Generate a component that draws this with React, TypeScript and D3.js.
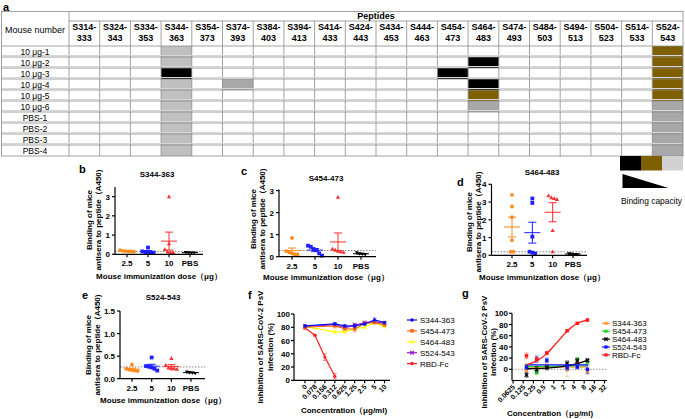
import * as d3 from "d3"

const FONT = "'Liberation Sans', Arial, sans-serif"

// ---------- panel a: peptide table ----------
const peptides = [
  "S314-333", "S324-343", "S334-353", "S344-363", "S354-373", "S374-393", "S384-403",
  "S394-413", "S414-433", "S424-443", "S434-453", "S444-463", "S454-473", "S464-483",
  "S474-493", "S484-503", "S494-513", "S504-523", "S514-533", "S524-543",
]
const mice = [
  "10 μg-1", "10 μg-2", "10 μg-3", "10 μg-4", "10 μg-5", "10 μg-6",
  "PBS-1", "PBS-2", "PBS-3", "PBS-4",
]
// [mouse, peptide]
const strongCells = [
  ["10 μg-3", "S344-363"], ["10 μg-3", "S454-473"],
  ["10 μg-2", "S464-483"], ["10 μg-4", "S464-483"],
]
const mediumCells = [
  ["10 μg-5", "S464-483"],
  ["10 μg-1", "S524-543"], ["10 μg-2", "S524-543"], ["10 μg-3", "S524-543"],
  ["10 μg-4", "S524-543"], ["10 μg-5", "S524-543"],
]
const weakCells = [
  ["10 μg-4", "S374-393"], ["10 μg-6", "S464-483"],
  ["10 μg-6", "S524-543"], ["PBS-1", "S524-543"], ["PBS-2", "S524-543"],
  ["PBS-3", "S524-543"], ["PBS-4", "S524-543"],
]
const faintCells = [
  ["10 μg-1", "S344-363"], ["10 μg-2", "S344-363"], ["10 μg-4", "S344-363"],
  ["10 μg-5", "S344-363"], ["10 μg-6", "S344-363"], ["PBS-1", "S344-363"],
  ["PBS-2", "S344-363"], ["PBS-3", "S344-363"], ["PBS-4", "S344-363"],
]

// ---------- panels b-e: binding by dose ----------
const doses = ["2.5", "5", "10", "PBS"]
const doseColors = ["#ff8a1c", "#1f1fff", "#ff2d2d", "#000000"]
const doseShapes = ["circle", "square", "tri", "triDown"]

const s344Dots = [
  [0.22, 0.18, 0.17, 0.15, 0.15, 0.14],
  [0.35, 0.15, 0.12, 0.1, 0.1, 0.08],
  [3.0, 0.55, 0.25, 0.12, 0.1, 0.1],
  [0.1, 0.09, 0.08, 0.08],
]
const s454Dots = [
  [0.85, 0.25, 0.2, 0.15, 0.1, 0.1],
  [0.5, 0.45, 0.35, 0.3, 0.15, 0.05],
  [2.7, 0.35, 0.3, 0.25, 0.22, 0.2],
  [0.18, 0.14, 0.12, 0.1],
]
const s464Dots = [
  [3.4, 2.75, 2.15, 0.85, 0.2, 0.2],
  [3.2, 2.95, 1.05, 0.2, 0.15, 0.1],
  [3.35, 3.25, 3.2, 3.15, 1.4, 0.2],
  [0.1, 0.08, 0.06, 0.05],
]
const s524Dots = [
  [0.31, 0.22, 0.2, 0.19, 0.18, 0.17],
  [0.47, 0.28, 0.27, 0.25, 0.22, 0.18],
  [0.45, 0.3, 0.24, 0.22, 0.22, 0.21],
  [0.15, 0.14, 0.13, 0.12],
]

// ---------- panel f ----------
const fConc = ["0", "0.078", "0.156", "0.312", "0.625", "1.25", "2.5", "5", "10"]
const fS344 = [82, null, null, 85, 82, 82, 85, 91, 87]
const fS454 = [80, null, null, 82, 78, 77, 86, 87, 84]
const fS464 = [81, null, null, 73, 73, 78, 80, 87, 81]
const fS524 = [81, null, null, 84, 79, 83, 87, 88, 86]
const fRBD = [79, 68, 35, 6, null, null, null, null, null]
const fS344Err = [2, 0, 0, 2, 2, 3, 2, 3, 2]
const fS454Err = [2, 0, 0, 3, 2, 4, 2, 2, 3]
const fS464Err = [2, 0, 0, 2, 2, 3, 2, 2, 2]
const fS524Err = [2, 0, 0, 2, 3, 3, 2, 2, 2]
const fRBDErr = [2, 1, 5, 4, 0, 0, 0, 0, 0]

// ---------- panel g ----------
const gTicks = [0.0625, 0.125, 0.25, 0.5, 1, 2, 4, 8, 16, 32]
const gTickLabels = ["0.0625", "0.125", "0.25", "0.5", "1", "2", "4", "8", "16", "32"]
// [conc, mean, error]
const gS344 = [[0.156, -2, 12], [0.3125, 3, 6], [0.625, 5, 5], [2.5, -1, 12], [5, 14, 4], [10, -4, 4]]
const gS454 = [[0.156, 5, 4], [0.3125, -6, 3], [0.625, 4, 3], [2.5, 6, 4], [5, 18, 3], [10, 13, 4]]
const gS464 = [[0.156, -10, 4], [0.3125, 0, 5], [0.625, 3, 4], [2.5, 11, 4], [5, 15, 4], [10, 16, 3]]
const gS524 = [[0.156, 4, 4], [0.3125, 18, 6], [0.625, 16, 4], [2.5, 3, 4], [5, 4, 3], [10, 0, 8]]
const gRBD = [[0.156, 24, 5], [0.3125, 18, 4], [0.625, 29, 3], [2.5, 69, 2], [5, 82, 2], [10, 88, 2]]
// fitted curves
const gFitS344 = [[0.156, 4], [10, 4]]
const gFitS454 = [[0.156, 5], [10, 6]]
const gFitS464 = [[0.156, 1], [0.625, 2], [2.5, 6], [5, 10], [10, 16]]
const gFitS524 = [[0.156, 8], [10, 8]]
const gFitRBD = [[0.156, 8], [0.3125, 15], [0.625, 28], [1.25, 48], [2.5, 68], [5, 82], [10, 88]]

function Marker({ shape, x, y, color, s = 2.2 }) {
  if (shape === "circle") return <circle cx={x} cy={y} r={s} fill={color} />
  if (shape === "square") return <rect x={x - s} y={y - s} width={2 * s} height={2 * s} fill={color} />
  if (shape === "tri")
    return <path d={`M${x},${y - s * 1.2}L${x + s * 1.1},${y + s * 0.8}L${x - s * 1.1},${y + s * 0.8}Z`} fill={color} />
  if (shape === "triDown")
    return <path d={`M${x},${y + s * 1.2}L${x + s * 1.1},${y - s * 0.8}L${x - s * 1.1},${y - s * 0.8}Z`} fill={color} />
  if (shape === "x")
    return (
      <path d={`M${x - s},${y - s}L${x + s},${y + s}M${x - s},${y + s}L${x + s},${y - s}`} stroke={color} strokeWidth={1.3} />
    )
  return null
}

// spread overlapping points sideways like a column scatter
function swarm(vals, y, gap = 2.8) {
  const pts = vals.map((v) => ({ v, py: y(v) })).sort((a, b) => a.py - b.py)
  const out = []
  let cluster = []
  const flush = () => {
    cluster.forEach((p, j) => out.push({ ...p, dx: (j - (cluster.length - 1) / 2) * gap }))
    cluster = []
  }
  pts.forEach((p) => {
    if (cluster.length && p.py - cluster[cluster.length - 1].py >= 3.5) flush()
    cluster.push(p)
  })
  flush()
  return out
}

function DotPanel({ dots, p }) {
  const y = d3.scaleLinear().domain(p.domain).range([p.yBottom, p.yTop])
  const x = d3.scalePoint().domain(doses).range(p.catRange)
  return (
    <g fontFamily={FONT}>
      <text x={p.letterX} y={p.letterY} fontSize={11} fontWeight="bold">{p.letter}</text>
      <text x={p.titleX} y={p.titleY} fontSize={8} fontWeight="bold" textAnchor="middle">{p.title}</text>
      {/* cutoff */}
      <line x1={p.x0} x2={p.x1} y1={y(p.cutoff)} y2={y(p.cutoff)} stroke="#666" strokeWidth={0.8} strokeDasharray="1.5,1.5" />
      {dots.map((vals, i) => {
        const cx = x(doses[i])
        const mean = d3.mean(vals)
        const sem = d3.deviation(vals) / Math.sqrt(vals.length)
        return (
          <g key={i}>
            {swarm(vals, y).map((d, j) => (
              <Marker key={j} shape={doseShapes[i]} x={cx + d.dx} y={d.py} color={doseColors[i]} s={i === 3 ? 1.7 : 1.9} />
            ))}
            <g stroke={doseColors[i]} strokeWidth={1}>
              <line x1={cx - 8} x2={cx + 8} y1={y(mean)} y2={y(mean)} />
              <line x1={cx} x2={cx} y1={y(mean + sem)} y2={y(Math.max(0, mean - sem))} />
              <line x1={cx - 4} x2={cx + 4} y1={y(mean + sem)} y2={y(mean + sem)} />
              <line x1={cx - 4} x2={cx + 4} y1={y(Math.max(0, mean - sem))} y2={y(Math.max(0, mean - sem))} />
            </g>
          </g>
        )
      })}
      {/* axes */}
      <g stroke="#000" strokeWidth={1.2}>
        <line x1={p.x0} x2={p.x0} y1={y(p.domain[1])} y2={y(0)} />
        <line x1={p.x0} x2={p.x1} y1={y(0)} y2={y(0)} />
        {p.ticks.map((t) => (
          <line key={t} x1={p.x0 - 3} x2={p.x0} y1={y(t)} y2={y(t)} />
        ))}
        {doses.map((d) => (
          <line key={d} x1={x(d)} x2={x(d)} y1={y(0)} y2={y(0) + 3} />
        ))}
      </g>
      {p.ticks.map((t) => (
        <text key={t} x={p.x0 - 5} y={y(t) + 3} fontSize={8} fontWeight="bold" textAnchor="end">
          {p.fmt(t)}
        </text>
      ))}
      {doses.map((d) => (
        <text key={d} x={x(d)} y={y(0) + 12} fontSize={8} fontWeight="bold" textAnchor="middle">{d}</text>
      ))}
      <text x={p.xlabX} y={p.xlabY} fontSize={8} fontWeight="bold" textAnchor="middle">Mouse immunization dose（μg）</text>
      <text transform={`translate(${p.ylabX},${p.ylabY}) rotate(-90)`} fontSize={8} fontWeight="bold" textAnchor="middle">
        Binding of mice
      </text>
      <text transform={`translate(${p.ylabX + 9},${p.ylabY}) rotate(-90)`} fontSize={8} fontWeight="bold" textAnchor="middle">
        antisera to peptide（A450)
      </text>
    </g>
  )
}

function Table() {
  const x = d3.scaleBand().domain(peptides).range([69, 683])
  const y = d3.scaleBand().domain(mice).range([46, 156])
  const fillCells = (cells, color) =>
    cells.map(([m, pep], i) => (
      <rect key={color + i} x={x(pep)} y={y(m)} width={x.bandwidth()} height={y.bandwidth()} fill={color} />
    ))
  return (
    <g fontFamily={FONT}>
      <text x={3} y={11} fontSize={11} fontWeight="bold">a</text>
      {fillCells(faintCells, "#c0c0c0")}
      {fillCells(weakCells, "#a8a8a8")}
      {fillCells(mediumCells, "#7f6000")}
      {fillCells(strongCells, "#000000")}
      <g stroke="#8a8a8a" strokeWidth={0.8} fill="none">
        <rect x={1.5} y={11.5} width={681.5} height={144.5} />
        <line x1={69} x2={683} y1={21} y2={21} />
        <line x1={1.5} x2={683} y1={46} y2={46} />
        {mice.slice(1).map((m) => (
          <line key={m} x1={1.5} x2={683} y1={y(m)} y2={y(m)} />
        ))}
        <line x1={69} x2={69} y1={11.5} y2={156} />
        {peptides.slice(1).map((pep) => (
          <line key={pep} x1={x(pep)} x2={x(pep)} y1={21} y2={156} />
        ))}
      </g>
      <g stroke="#d6d6d6" strokeWidth={1}>
        {mice.slice(1).map((m) => (
          <line key={m} x1={2} x2={682} y1={y(m) - 1.5} y2={y(m) - 1.5} />
        ))}
      </g>
      <text x={376} y={19} fontSize={9} fontWeight="bold" textAnchor="middle">Peptides</text>
      <text x={35} y={33} fontSize={9} textAnchor="middle">Mouse number</text>
      {peptides.map((pep) => {
        const [a, b] = pep.split("-")
        const cx = x(pep) + x.bandwidth() / 2
        return (
          <g key={pep} fontSize={9} fontWeight="bold" textAnchor="middle">
            <text x={cx} y={30}>{a}-</text>
            <text x={cx} y={40.5}>{b}</text>
          </g>
        )
      })}
      {mice.map((m) => (
        <text key={m} x={35} y={y(m) + y.bandwidth() / 2 + 3.2} fontSize={8.5} textAnchor="middle">{m}</text>
      ))}
      {/* binding capacity legend */}
      <rect x={620} y={156} width={21} height={14.5} fill="#000" />
      <rect x={641} y={156} width={21} height={14.5} fill="#7f6000" />
      <rect x={662} y={156} width={21} height={14.5} fill="#d2d2d2" />
      <path d="M622.5,174L622.5,188L668.5,188Z" fill="#000" />
      <text x={621} y={204} fontSize={8.4}>Binding capacity</text>
    </g>
  )
}

function PanelF() {
  const x = d3.scalePoint().domain(fConc).range([305, 384.5])
  const y = d3.scaleLinear().domain([0, 100]).range([380.3, 314])
  const series = [
    { name: "RBD-Fc", vals: fRBD, err: fRBDErr, color: "#ff2020", shape: "circle" },
    { name: "S464-483", vals: fS464, err: fS464Err, color: "#ffff00", shape: "tri" },
    { name: "S524-543", vals: fS524, err: fS524Err, color: "#9a1fd0", shape: "x" },
    { name: "S454-473", vals: fS454, err: fS454Err, color: "#ff6a10", shape: "square" },
    { name: "S344-363", vals: fS344, err: fS344Err, color: "#1010ee", shape: "circle" },
  ]
  const legend = ["S344-363", "S454-473", "S464-483", "S524-543", "RBD-Fc"]
  const line = d3
    .line()
    .defined((d) => d[1] != null)
    .x((d) => x(d[0]))
    .y((d) => y(d[1]))
  return (
    <g fontFamily={FONT}>
      <text x={248} y={299} fontSize={11} fontWeight="bold">f</text>
      {series.map((s) => {
        const pts = fConc.map((c, i) => [c, s.vals[i], s.err[i]]).filter((d) => d[1] != null)
        return (
          <g key={s.name}>
            <path d={line(pts)} fill="none" stroke={s.color} strokeWidth={1.2} />
            {pts.map((d) => (
              <g key={d[0]} stroke={s.color} strokeWidth={0.8} opacity={0.7}>
                <line x1={x(d[0])} x2={x(d[0])} y1={y(d[1] + d[2])} y2={y(d[1] - d[2])} />
                <line x1={x(d[0]) - 2} x2={x(d[0]) + 2} y1={y(d[1] + d[2])} y2={y(d[1] + d[2])} />
                <line x1={x(d[0]) - 2} x2={x(d[0]) + 2} y1={y(d[1] - d[2])} y2={y(d[1] - d[2])} />
              </g>
            ))}
            {pts.map((d) => (
              <Marker key={"m" + d[0]} shape={s.shape} x={x(d[0])} y={y(d[1])} color={s.color} s={1.6} />
            ))}
          </g>
        )
      })}
      <g stroke="#000" strokeWidth={1.2}>
        <line x1={294} x2={294} y1={y(100)} y2={y(0)} />
        <line x1={294} x2={390} y1={y(0)} y2={y(0)} />
        {y.ticks(5).map((t) => (
          <line key={t} x1={291} x2={294} y1={y(t)} y2={y(t)} />
        ))}
        {fConc.map((c) => (
          <line key={c} x1={x(c)} x2={x(c)} y1={y(0)} y2={y(0) + 3} />
        ))}
      </g>
      {y.ticks(5).map((t) => (
        <text key={t} x={290} y={y(t) + 3} fontSize={8} fontWeight="bold" textAnchor="end">{t}</text>
      ))}
      {fConc.map((c) => (
        <text key={c} transform={`translate(${x(c) + 2.5},${y(0) + 7}) rotate(-45)`} fontSize={7} fontWeight="bold" textAnchor="end">
          {c}
        </text>
      ))}
      <text x={344} y={413} fontSize={8} fontWeight="bold" textAnchor="middle">Concentration（μg/ml)</text>
      <text transform="translate(263,347) rotate(-90)" fontSize={8} fontWeight="bold" textAnchor="middle">
        Inhibition of SARS-CoV-2 PsV
      </text>
      <text transform="translate(272.5,347) rotate(-90)" fontSize={8} fontWeight="bold" textAnchor="middle">
        infection (%)
      </text>
      {legend.map((name, i) => {
        const s = series.find((d) => d.name === name)
        const ly = 320 + i * 10.9
        return (
          <g key={name}>
            <line x1={407} x2={417} y1={ly} y2={ly} stroke={s.color} strokeWidth={1.2} />
            <Marker shape={s.shape} x={412} y={ly} color={s.color} s={1.8} />
            <text x={420} y={ly + 3} fontSize={8}>{name}</text>
          </g>
        )
      })}
    </g>
  )
}

function PanelG() {
  const x = d3.scaleLog().base(2).domain([0.058, 38]).range([512, 607])
  const y = d3.scaleLinear().domain([-20, 100]).range([380.5, 313.3])
  const series = [
    { name: "S344-363", pts: gS344, fit: gFitS344, color: "#ff9a40", shape: "square" },
    { name: "S454-473", pts: gS454, fit: gFitS454, color: "#2fd02f", shape: "square" },
    { name: "S464-483", pts: gS464, fit: gFitS464, color: "#000000", shape: "x" },
    { name: "S524-543", pts: gS524, fit: gFitS524, color: "#1010ff", shape: "square" },
    { name: "RBD-Fc", pts: gRBD, fit: gFitRBD, color: "#ff1a1a", shape: "square" },
  ]
  const line = d3
    .line()
    .x((d) => x(d[0]))
    .y((d) => y(d[1]))
    .curve(d3.curveMonotoneX)
  return (
    <g fontFamily={FONT}>
      <text x={462} y={297} fontSize={11} fontWeight="bold">g</text>
      <line x1={512} x2={607} y1={y(0)} y2={y(0)} stroke="#777" strokeWidth={0.8} strokeDasharray="1.5,1.5" />
      {series.map((s) => (
        <g key={s.name}>
          {s.pts.map((d, i) => (
            <g key={i} stroke={s.color} strokeWidth={0.8} opacity={0.6}>
              <line x1={x(d[0])} x2={x(d[0])} y1={y(d[1] + d[2])} y2={y(d[1] - d[2])} />
              <line x1={x(d[0]) - 2} x2={x(d[0]) + 2} y1={y(d[1] + d[2])} y2={y(d[1] + d[2])} />
              <line x1={x(d[0]) - 2} x2={x(d[0]) + 2} y1={y(d[1] - d[2])} y2={y(d[1] - d[2])} />
            </g>
          ))}
          <path d={line(s.fit)} fill="none" stroke={s.color} strokeWidth={1.3} />
          {s.pts.map((d, i) => (
            <Marker key={"m" + i} shape={s.shape} x={x(d[0])} y={y(d[1])} color={s.color} s={1.7} />
          ))}
        </g>
      ))}
      <g stroke="#000" strokeWidth={1.2}>
        <line x1={512} x2={512} y1={y(100)} y2={y(-20)} />
        <line x1={512} x2={607} y1={y(-20)} y2={y(-20)} />
        {[100, 80, 60, 40, 20, 0].map((t) => (
          <line key={t} x1={509} x2={512} y1={y(t)} y2={y(t)} />
        ))}
        {gTicks.map((t) => (
          <line key={t} x1={x(t)} x2={x(t)} y1={y(-20)} y2={y(-20) + 3} />
        ))}
      </g>
      {[100, 80, 60, 40, 20, 0].map((t) => (
        <text key={t} x={508} y={y(t) + 3} fontSize={8} fontWeight="bold" textAnchor="end">{t}</text>
      ))}
      {gTicks.map((t, i) => (
        <text key={t} transform={`translate(${x(t) + 2.5},${y(-20) + 7}) rotate(-45)`} fontSize={7} fontWeight="bold" textAnchor="end">
          {gTickLabels[i]}
        </text>
      ))}
      <text x={550} y={415.5} fontSize={8} fontWeight="bold" textAnchor="middle">Concentration（μg/ml)</text>
      <text transform="translate(486.5,352) rotate(-90)" fontSize={8} fontWeight="bold" textAnchor="middle">
        Inhibition of SARS-CoV-2 PsV
      </text>
      <text transform="translate(495.5,352) rotate(-90)" fontSize={8} fontWeight="bold" textAnchor="middle">
        infection (%)
      </text>
      {series.map((s, i) => {
        const ly = 323.3 + i * 7.9
        return (
          <g key={s.name}>
            <line x1={602} x2={610} y1={ly} y2={ly} stroke={s.color} strokeWidth={1.2} />
            <Marker shape={s.shape} x={606} y={ly} color={s.color} s={1.6} />
            <text x={612} y={ly + 3} fontSize={8}>{s.name}</text>
          </g>
        )
      })}
    </g>
  )
}

const fmt0 = (t) => String(t)
const fmt1 = (t) => t.toFixed(1)

const panelB = {
  letter: "b", letterX: 79, letterY: 173, title: "S344-363", titleX: 157, titleY: 176.5,
  x0: 115, x1: 203, catRange: [127, 190], domain: [0, 3.5], yBottom: 254.3, yTop: 187,
  ticks: [0, 1, 2, 3], fmt: fmt0, cutoff: 0.15, xlabX: 159, xlabY: 279, ylabX: 92, ylabY: 220,
}
const panelC = {
  letter: "c", letterX: 241, letterY: 175, title: "S454-473", titleX: 326, titleY: 181,
  x0: 279, x1: 376, catRange: [292, 361], domain: [0, 3.05], yBottom: 256.7, yTop: 189.5,
  ticks: [0, 1, 2, 3], fmt: fmt0, cutoff: 0.28, xlabX: 326, xlabY: 280, ylabX: 256, ylabY: 219,
}
const panelD = {
  letter: "d", letterX: 457, letterY: 186, title: "S464-483", titleX: 542, titleY: 175,
  x0: 491.5, x1: 587, catRange: [512, 573], domain: [0, 4], yBottom: 255.3, yTop: 184.3,
  ticks: [0, 1, 2, 3, 4], fmt: fmt0, cutoff: 0.2, xlabX: 542, xlabY: 280, ylabX: 472, ylabY: 222,
}
const panelE = {
  letter: "e", letterX: 82, letterY: 299, title: "S524-543", titleX: 163, titleY: 299.5,
  x0: 120, x1: 205, catRange: [132, 191], domain: [0, 1.5], yBottom: 378.7, yTop: 311,
  ticks: [0, 0.5, 1, 1.5], fmt: fmt1, cutoff: 0.26, xlabX: 163, xlabY: 403, ylabX: 91, ylabY: 345,
}

export default function App() {
  return (
    <svg width={685} height={419} style={{ position: "absolute", left: 0, top: 0, background: "#fff" }}>
      <rect width={685} height={419} fill="#fff" />
      <Table />
      <DotPanel dots={s344Dots} p={panelB} />
      <DotPanel dots={s454Dots} p={panelC} />
      <DotPanel dots={s464Dots} p={panelD} />
      <DotPanel dots={s524Dots} p={panelE} />
      <PanelF />
      <PanelG />
    </svg>
  )
}
